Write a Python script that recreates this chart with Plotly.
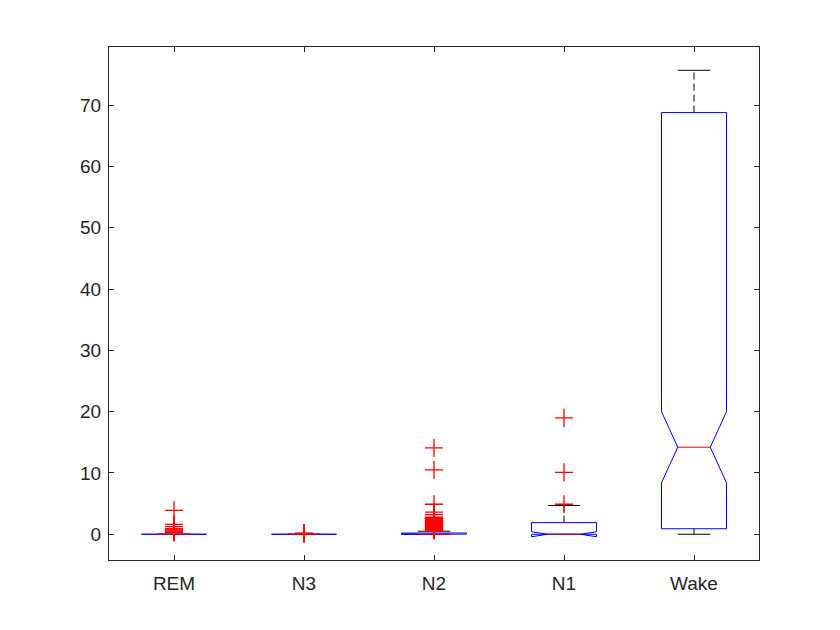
import plotly.graph_objects as go

# box statistics per sleep stage
categories = ["REM", "N3", "N2", "N1", "Wake"]
q1 = [0, 0, 0, 0, 0.9]
medians = [0, 0, 0, 0, 14.2]
q3 = [0, 0, 0.2, 1.9, 68.8]
notch_lo = [0, 0, -0.02, -0.4, 8.4]
notch_hi = [0, 0, 0.02, 0.4, 20.0]
whisker_lo = [0, 0, 0, 0, 0]
whisker_hi = [0, 0, 0.5, 4.7, 75.7]

outliers_rem = [3.9, 1.6, 1.25, 0.9, 0.7, 0.55, 0.4, 0.3]
outliers_n3 = [0.1, 0.15, 0.2]
outliers_n2 = [14.1, 10.5, 4.9, 3.6, 3.2, 2.8, 2.7, 2.6, 2.5, 2.4, 2.3, 2.2, 2.1,
               2.0, 1.9, 1.8, 1.7, 1.6, 1.5, 1.4, 1.3, 1.2, 1.1, 1.0, 0.9, 0.8,
               0.7, 0.6]
outliers_n1 = [19.0, 10.1, 4.9]
outliers_wake = []
outliers = [outliers_rem, outliers_n3, outliers_n2, outliers_n1, outliers_wake]

hw = 0.25      # half box width
nw = 0.125     # notch inset
cw = 0.125     # half cap width

fig = go.Figure()

wx, wy, cx, cy, bx, by, mx, my = [], [], [], [], [], [], [], []
for i in range(len(categories)):
    c = i + 1
    # whiskers
    wx += [c, c, None, c, c, None]
    wy += [q3[i], whisker_hi[i], None, q1[i], whisker_lo[i], None]
    cx += [c - cw, c + cw, None, c - cw, c + cw, None]
    cy += [whisker_hi[i], whisker_hi[i], None, whisker_lo[i], whisker_lo[i], None]
    # notched box outline
    bx += [c - hw, c - hw, c - hw + nw, c - hw, c - hw, c + hw, c + hw,
           c + hw - nw, c + hw, c + hw, c - hw, None]
    by += [q1[i], notch_lo[i], medians[i], notch_hi[i], q3[i], q3[i], notch_hi[i],
           medians[i], notch_lo[i], q1[i], q1[i], None]
    mx += [c - hw + nw, c + hw - nw, None]
    my += [medians[i], medians[i], None]

fig.add_trace(go.Scatter(x=wx, y=wy, mode="lines",
                         line=dict(color="black", width=1, dash="7px,4px")))
fig.add_trace(go.Scatter(x=cx, y=cy, mode="lines", line=dict(color="black", width=1)))
fig.add_trace(go.Scatter(x=bx, y=by, mode="lines", line=dict(color="#0000ff", width=1)))
fig.add_trace(go.Scatter(x=mx, y=my, mode="lines", line=dict(color="#ff0000", width=1)))

ox, oy = [], []
for i, vals in enumerate(outliers):
    ox += [i + 1] * len(vals)
    oy += vals
fig.add_trace(go.Scatter(x=ox, y=oy, mode="markers",
                         marker=dict(symbol="cross-thin-open", size=13, color="#ff0000",
                                     line=dict(color="#ff0000", width=1.3))))

axis_style = dict(showline=True, linecolor="#262626", linewidth=1, mirror="ticks",
                  ticks="inside", ticklen=5, tickcolor="#262626", showgrid=False,
                  zeroline=False, tickfont=dict(color="#262626", size=19))

fig.update_xaxes(range=[0.5, 5.5], tickvals=[1, 2, 3, 4, 5], ticktext=categories,
                 ticklabelstandoff=6, **axis_style)
fig.update_yaxes(range=[-4.2, 79.5], tickvals=[0, 10, 20, 30, 40, 50, 60, 70],
                 ticklabelstandoff=3, **axis_style)

# page body adds an 8px offset, so margins are shifted to keep the axes in place
fig.update_layout(width=840, height=630, showlegend=False,
                  paper_bgcolor="white", plot_bgcolor="white",
                  font=dict(family="Liberation Sans, Arial, sans-serif"),
                  margin=dict(l=101, r=89, t=39, b=78))

fig.write_html("out.html")
